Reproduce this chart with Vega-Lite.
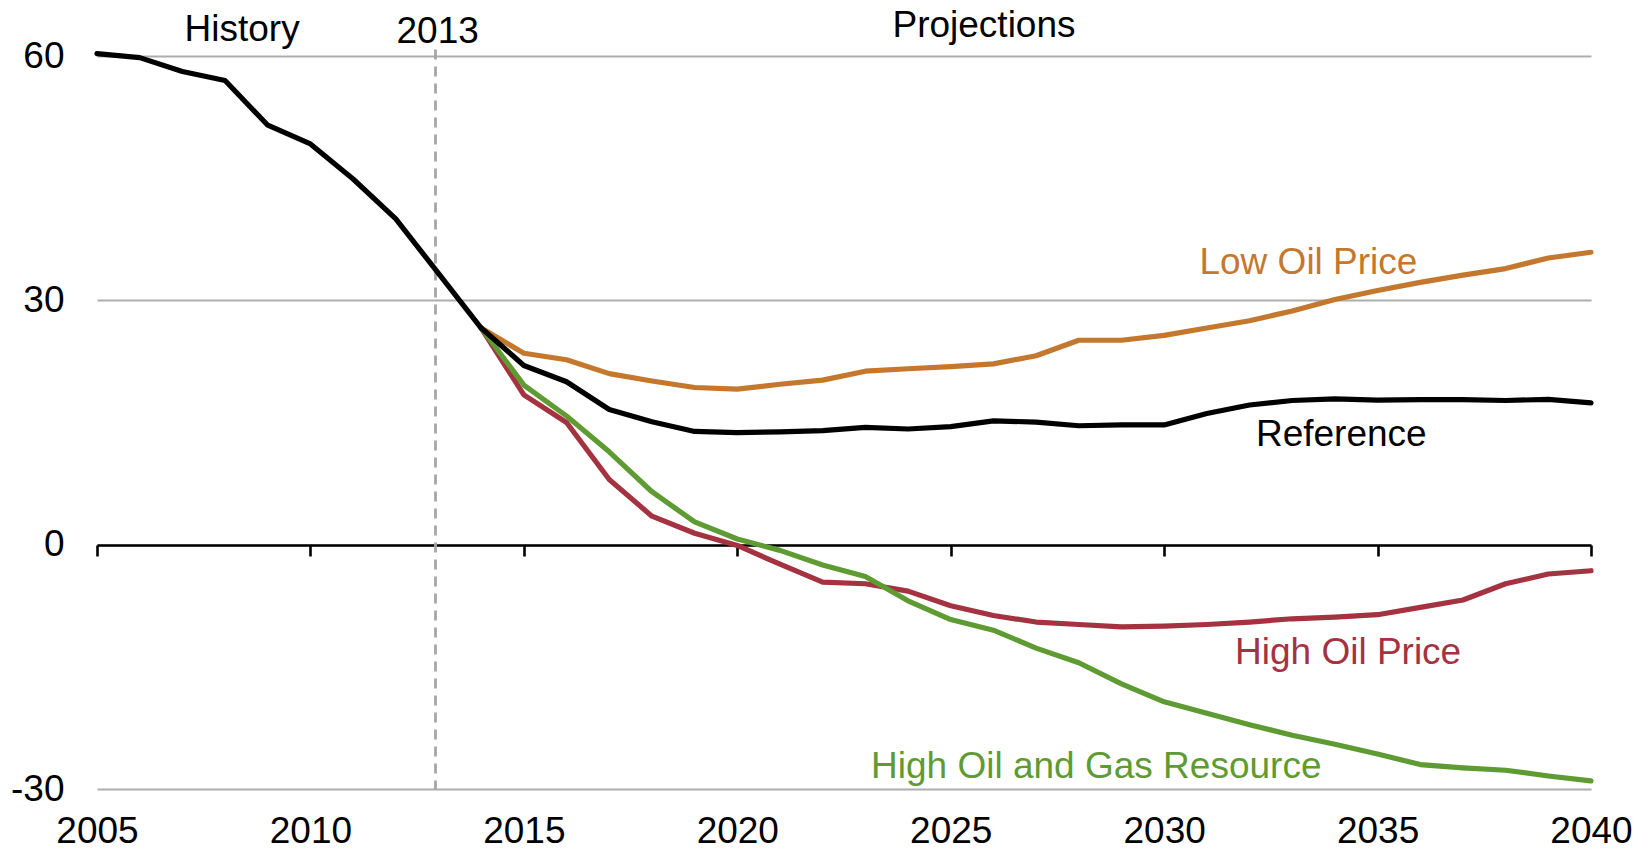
{
  "$schema": "https://vega.github.io/schema/vega-lite/v6.json",
  "width": 1494,
  "height": 733,
  "autosize": {"type": "none"},
  "padding": {"left": 97, "top": 56, "right": 58, "bottom": 60},
  "background": "white",
  "config": {"view": {"stroke": null}, "font": "Liberation Sans"},
  "datasets": {
    "lines": [
      {"year": 2014, "series": "Low Oil Price", "value": 26.6},
      {"year": 2015, "series": "Low Oil Price", "value": 23.5},
      {"year": 2016, "series": "Low Oil Price", "value": 22.7},
      {"year": 2017, "series": "Low Oil Price", "value": 21.0},
      {"year": 2018, "series": "Low Oil Price", "value": 20.1},
      {"year": 2019, "series": "Low Oil Price", "value": 19.3},
      {"year": 2020, "series": "Low Oil Price", "value": 19.1},
      {"year": 2021, "series": "Low Oil Price", "value": 19.7},
      {"year": 2022, "series": "Low Oil Price", "value": 20.2},
      {"year": 2023, "series": "Low Oil Price", "value": 21.3},
      {"year": 2024, "series": "Low Oil Price", "value": 21.6},
      {"year": 2025, "series": "Low Oil Price", "value": 21.85},
      {"year": 2026, "series": "Low Oil Price", "value": 22.2},
      {"year": 2027, "series": "Low Oil Price", "value": 23.2},
      {"year": 2028, "series": "Low Oil Price", "value": 25.1},
      {"year": 2029, "series": "Low Oil Price", "value": 25.1},
      {"year": 2030, "series": "Low Oil Price", "value": 25.7},
      {"year": 2031, "series": "Low Oil Price", "value": 26.6},
      {"year": 2032, "series": "Low Oil Price", "value": 27.5},
      {"year": 2033, "series": "Low Oil Price", "value": 28.7},
      {"year": 2034, "series": "Low Oil Price", "value": 30.1},
      {"year": 2035, "series": "Low Oil Price", "value": 31.2},
      {"year": 2036, "series": "Low Oil Price", "value": 32.2},
      {"year": 2037, "series": "Low Oil Price", "value": 33.1},
      {"year": 2038, "series": "Low Oil Price", "value": 33.9},
      {"year": 2039, "series": "Low Oil Price", "value": 35.2},
      {"year": 2040, "series": "Low Oil Price", "value": 35.9},
      {"year": 2014, "series": "High Oil Price", "value": 26.6},
      {"year": 2015, "series": "High Oil Price", "value": 18.4},
      {"year": 2016, "series": "High Oil Price", "value": 15.0},
      {"year": 2017, "series": "High Oil Price", "value": 8.0},
      {"year": 2018, "series": "High Oil Price", "value": 3.5},
      {"year": 2019, "series": "High Oil Price", "value": 1.4},
      {"year": 2020, "series": "High Oil Price", "value": -0.1},
      {"year": 2021, "series": "High Oil Price", "value": -2.4},
      {"year": 2022, "series": "High Oil Price", "value": -4.6},
      {"year": 2023, "series": "High Oil Price", "value": -4.8},
      {"year": 2024, "series": "High Oil Price", "value": -5.7},
      {"year": 2025, "series": "High Oil Price", "value": -7.5},
      {"year": 2026, "series": "High Oil Price", "value": -8.7},
      {"year": 2027, "series": "High Oil Price", "value": -9.5},
      {"year": 2028, "series": "High Oil Price", "value": -9.8},
      {"year": 2029, "series": "High Oil Price", "value": -10.1},
      {"year": 2030, "series": "High Oil Price", "value": -10.0},
      {"year": 2031, "series": "High Oil Price", "value": -9.8},
      {"year": 2032, "series": "High Oil Price", "value": -9.5},
      {"year": 2033, "series": "High Oil Price", "value": -9.1},
      {"year": 2034, "series": "High Oil Price", "value": -8.9},
      {"year": 2035, "series": "High Oil Price", "value": -8.6},
      {"year": 2036, "series": "High Oil Price", "value": -7.7},
      {"year": 2037, "series": "High Oil Price", "value": -6.8},
      {"year": 2038, "series": "High Oil Price", "value": -4.8},
      {"year": 2039, "series": "High Oil Price", "value": -3.6},
      {"year": 2040, "series": "High Oil Price", "value": -3.2},
      {"year": 2014, "series": "High Oil and Gas Resource", "value": 26.6},
      {"year": 2015, "series": "High Oil and Gas Resource", "value": 19.6},
      {"year": 2016, "series": "High Oil and Gas Resource", "value": 15.8},
      {"year": 2017, "series": "High Oil and Gas Resource", "value": 11.4},
      {"year": 2018, "series": "High Oil and Gas Resource", "value": 6.5},
      {"year": 2019, "series": "High Oil and Gas Resource", "value": 2.8},
      {"year": 2020, "series": "High Oil and Gas Resource", "value": 0.7},
      {"year": 2021, "series": "High Oil and Gas Resource", "value": -0.7},
      {"year": 2022, "series": "High Oil and Gas Resource", "value": -2.5},
      {"year": 2023, "series": "High Oil and Gas Resource", "value": -3.9},
      {"year": 2024, "series": "High Oil and Gas Resource", "value": -6.9},
      {"year": 2025, "series": "High Oil and Gas Resource", "value": -9.2},
      {"year": 2026, "series": "High Oil and Gas Resource", "value": -10.5},
      {"year": 2027, "series": "High Oil and Gas Resource", "value": -12.7},
      {"year": 2028, "series": "High Oil and Gas Resource", "value": -14.5},
      {"year": 2029, "series": "High Oil and Gas Resource", "value": -17.1},
      {"year": 2030, "series": "High Oil and Gas Resource", "value": -19.3},
      {"year": 2031, "series": "High Oil and Gas Resource", "value": -20.7},
      {"year": 2032, "series": "High Oil and Gas Resource", "value": -22.1},
      {"year": 2033, "series": "High Oil and Gas Resource", "value": -23.4},
      {"year": 2034, "series": "High Oil and Gas Resource", "value": -24.5},
      {"year": 2035, "series": "High Oil and Gas Resource", "value": -25.7},
      {"year": 2036, "series": "High Oil and Gas Resource", "value": -27.0},
      {"year": 2037, "series": "High Oil and Gas Resource", "value": -27.4},
      {"year": 2038, "series": "High Oil and Gas Resource", "value": -27.7},
      {"year": 2039, "series": "High Oil and Gas Resource", "value": -28.4},
      {"year": 2040, "series": "High Oil and Gas Resource", "value": -29.0},
      {"year": 2005, "series": "Reference", "value": 60.3},
      {"year": 2006, "series": "Reference", "value": 59.8},
      {"year": 2007, "series": "Reference", "value": 58.1},
      {"year": 2008, "series": "Reference", "value": 57.0},
      {"year": 2009, "series": "Reference", "value": 51.5},
      {"year": 2010, "series": "Reference", "value": 49.2},
      {"year": 2011, "series": "Reference", "value": 44.9},
      {"year": 2012, "series": "Reference", "value": 40.0},
      {"year": 2013, "series": "Reference", "value": 33.3},
      {"year": 2014, "series": "Reference", "value": 26.6},
      {"year": 2015, "series": "Reference", "value": 22.0},
      {"year": 2016, "series": "Reference", "value": 20.0},
      {"year": 2017, "series": "Reference", "value": 16.6},
      {"year": 2018, "series": "Reference", "value": 15.1},
      {"year": 2019, "series": "Reference", "value": 13.9},
      {"year": 2020, "series": "Reference", "value": 13.75},
      {"year": 2021, "series": "Reference", "value": 13.85},
      {"year": 2022, "series": "Reference", "value": 14.0},
      {"year": 2023, "series": "Reference", "value": 14.4},
      {"year": 2024, "series": "Reference", "value": 14.2},
      {"year": 2025, "series": "Reference", "value": 14.5},
      {"year": 2026, "series": "Reference", "value": 15.2},
      {"year": 2027, "series": "Reference", "value": 15.05},
      {"year": 2028, "series": "Reference", "value": 14.6},
      {"year": 2029, "series": "Reference", "value": 14.7},
      {"year": 2030, "series": "Reference", "value": 14.7},
      {"year": 2031, "series": "Reference", "value": 16.1},
      {"year": 2032, "series": "Reference", "value": 17.15},
      {"year": 2033, "series": "Reference", "value": 17.7},
      {"year": 2034, "series": "Reference", "value": 17.9},
      {"year": 2035, "series": "Reference", "value": 17.75},
      {"year": 2036, "series": "Reference", "value": 17.8},
      {"year": 2037, "series": "Reference", "value": 17.8},
      {"year": 2038, "series": "Reference", "value": 17.7},
      {"year": 2039, "series": "Reference", "value": 17.85},
      {"year": 2040, "series": "Reference", "value": 17.4}
    ],
    "labels": [
      {"year": 2033.38, "value": 33.2, "series": "Low Oil Price"},
      {"year": 2034.15, "value": 12.1, "series": "Reference"},
      {"year": 2034.31, "value": -14.7, "series": "High Oil Price"},
      {"year": 2028.41, "value": -28.6, "series": "High Oil and Gas Resource"}
    ],
    "headers": [
      {"year": 2008.4, "value": 61.86, "text": "History"},
      {"year": 2012.98, "value": 61.54, "text": "2013"},
      {"year": 2025.78, "value": 62.37, "text": "Projections"}
    ],
    "divider": [
      {"year": 2012.93, "value": 60.8, "value2": -30}
    ]
  },
  "encoding": {
    "y": {
      "field": "value", "type": "quantitative",
      "scale": {"domain": [-30, 60], "nice": false, "zero": false},
      "axis": {
        "orient": "left", "values": [-30, 0, 30, 60],
        "labelExpr": "datum.value + ''", "domain": false, "ticks": false, "tickSize": 0,
        "grid": true, "gridColor": "#ADADAD", "gridWidth": 2,
        "labelFontSize": 37, "labelColor": "#000000", "labelPadding": 33,
        "labelBaseline": "middle", "title": null, "labelOverlap": false, "labelFlush": false, "labelBound": false
      }
    }
  },
  "resolve": {"axis": {"x": "independent"}},
  "layer": [
    {
      "data": {"name": "divider"},
      "mark": {"type": "rule", "color": "#A6A6A6", "strokeWidth": 2.8, "strokeDash": [10, 7]},
      "encoding": {
        "x": {
          "field": "year", "type": "quantitative",
          "scale": {"domain": [2005, 2040], "nice": false, "zero": false},
          "axis": {
            "orient": "bottom", "values": [2005, 2010, 2015, 2020, 2025, 2030, 2035, 2040],
            "labelExpr": "datum.value + ''", "domain": false, "ticks": false, "tickSize": 0,
            "grid": false, "labelFontSize": 37, "labelColor": "#000000",
            "labelBaseline": "alphabetic", "labelPadding": 53, "title": null,
            "labelFlush": false, "labelOverlap": false, "labelBound": false
          }
        },
        "y2": {"field": "value2"}
      }
    },
    {
      "data": {"name": "headers"},
      "mark": {"type": "text", "fontSize": 37, "color": "#000000", "align": "center", "baseline": "alphabetic"},
      "encoding": {
        "x": {
          "field": "year", "type": "quantitative",
          "axis": {
            "orient": "bottom", "offset": -244, "values": [2005, 2010, 2015, 2020, 2025, 2030, 2035, 2040],
            "labels": false, "domain": true, "domainColor": "#000000", "domainWidth": 2.6,
            "ticks": true, "tickColor": "#000000", "tickWidth": 2.6, "tickSize": 11,
            "grid": false, "title": null
          }
        },
        "text": {"field": "text"}
      }
    },
    {
      "data": {"name": "lines"},
      "mark": {"type": "line", "strokeWidth": 5.2, "strokeCap": "round", "strokeJoin": "round"},
      "encoding": {
        "x": {"field": "year", "type": "quantitative", "axis": null},
        "color": {
          "field": "series", "type": "nominal",
          "scale": {
            "domain": ["Reference", "Low Oil Price", "High Oil Price", "High Oil and Gas Resource"],
            "range": ["#000000", "#C4782E", "#A53241", "#5E9B32"]
          },
          "legend": null
        },
        "detail": {"field": "series"}
      }
    },
    {
      "data": {"name": "labels"},
      "mark": {"type": "text", "fontSize": 37, "align": "center", "baseline": "alphabetic"},
      "encoding": {
        "x": {"field": "year", "type": "quantitative", "axis": null},
        "text": {"field": "series"},
        "color": {"field": "series", "type": "nominal", "legend": null}
      }
    }
  ]
}
